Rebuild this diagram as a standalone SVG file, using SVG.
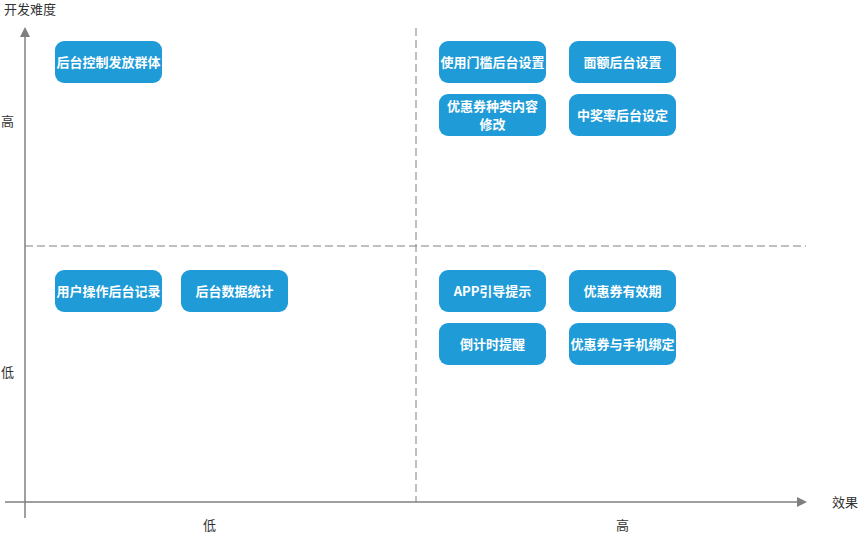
<svg xmlns="http://www.w3.org/2000/svg" width="861" height="534" viewBox="0 0 861 534">
<style>
.n rect{fill:#1f9bd7;}
.n text{fill:#fff;font-family:"Noto Sans CJK SC","Liberation Sans",sans-serif;font-size:13px;font-weight:bold;text-anchor:middle;}
.lb{fill:#333;font-family:"Noto Sans CJK SC","Liberation Sans",sans-serif;font-size:13px;}
.ax{stroke:#7f7f7f;stroke-width:1.5;fill:none;}
.ds{stroke:#808080;stroke-width:1;stroke-dasharray:8,4;fill:none;}
</style>
<rect width="861" height="534" fill="#fff"/>
<g id="axes">
<line class="ax" x1="25" y1="518" x2="25" y2="36"/>
<polygon points="25,27 20,37 30,37" fill="#7f7f7f"/>
<line class="ax" x1="5" y1="502" x2="798" y2="502"/>
<polygon points="807,502 797,497 797,507" fill="#7f7f7f"/>
<line class="ds" x1="416" y1="28" x2="416" y2="502"/>
<line class="ds" x1="25" y1="246" x2="806" y2="246"/>
</g>
<g id="labels">
<text class="lb" x="4" y="14">开发难度</text>
<text class="lb" x="1" y="126">高</text>
<text class="lb" x="1" y="377">低</text>
<text class="lb" x="203" y="530">低</text>
<text class="lb" x="616" y="530">高</text>
<text class="lb" x="832" y="507">效果</text>
</g>
<g id="n1" class="n"><rect x="55" y="41" width="107" height="42" rx="9"/><text x="108.5" y="67">后台控制发放群体</text></g>
<g id="n2" class="n"><rect x="439" y="41" width="107" height="42" rx="9"/><text x="492.5" y="67">使用门槛后台设置</text></g>
<g id="n3" class="n"><rect x="569" y="41" width="107" height="42" rx="9"/><text x="622.5" y="67">面额后台设置</text></g>
<g id="n4" class="n"><rect x="439" y="94" width="107" height="42" rx="9"/><text x="492.5" y="111">优惠券种类内容</text><text x="492.5" y="129">修改</text></g>
<g id="n5" class="n"><rect x="569" y="94" width="107" height="42" rx="9"/><text x="622.5" y="120">中奖率后台设定</text></g>
<g id="n6" class="n"><rect x="55" y="270" width="107" height="42" rx="9"/><text x="108.5" y="296">用户操作后台记录</text></g>
<g id="n7" class="n"><rect x="181" y="270" width="107" height="42" rx="9"/><text x="234.5" y="296">后台数据统计</text></g>
<g id="n8" class="n"><rect x="439" y="270" width="107" height="42" rx="9"/><text x="492.5" y="296">APP引导提示</text></g>
<g id="n9" class="n"><rect x="569" y="270" width="107" height="42" rx="9"/><text x="622.5" y="296">优惠券有效期</text></g>
<g id="n10" class="n"><rect x="439" y="323" width="107" height="42" rx="9"/><text x="492.5" y="349">倒计时提醒</text></g>
<g id="n11" class="n"><rect x="569" y="323" width="107" height="42" rx="9"/><text x="622.5" y="349">优惠券与手机绑定</text></g>
</svg>
